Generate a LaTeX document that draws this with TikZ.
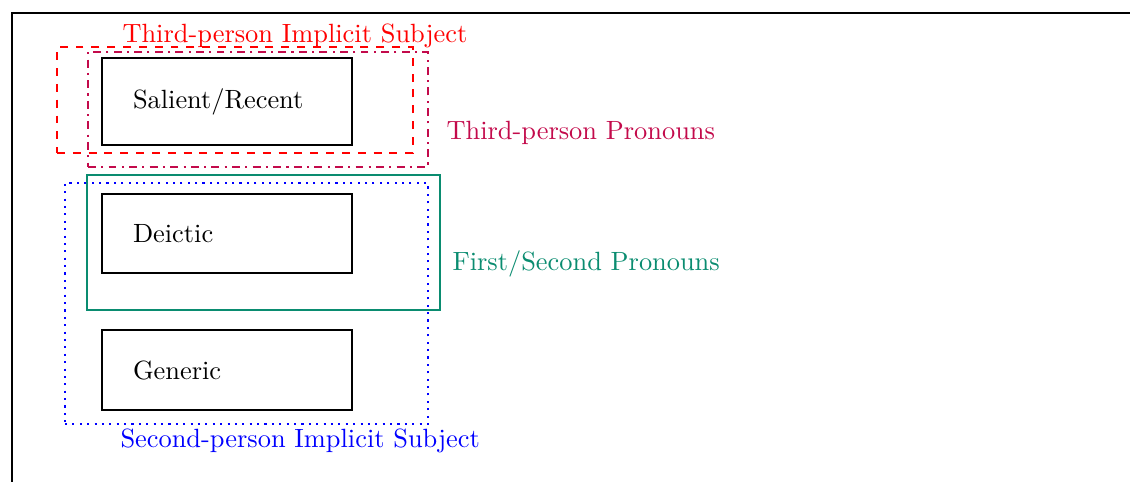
\documentclass[tikz,border=0pt]{standalone}
\usetikzlibrary{positioning}
\definecolor{grp}{RGB}{10,140,112}
\definecolor{pur}{RGB}{195,10,75}
\begin{document}
\begin{tikzpicture}[x=0.379pt,y=-0.379pt,
  catbox/.style={draw=black,thick,rectangle,minimum width=250*0.379pt,
    text width=188*0.379pt,align=left,inner xsep=31*0.379pt,inner ysep=0pt},
  grpbox/.style={rectangle,inner sep=0pt,thick},
  lab/.style={anchor=base west,inner sep=0pt}]
\useasboundingbox (0,0) rectangle (1130,481);
\coordinate (fbl) at (12,490);
\coordinate (ftl) at (12,13);
\coordinate (ftr) at (1140,13);
\draw[line width=0.9pt] (fbl) -- (ftl) -- (ftr);
% category boxes
\node[catbox,minimum height=87*0.379pt] (sal) at (227,101.5) {Salient/Recent};
\node[catbox,minimum height=79*0.379pt] (dei) at (227,233.5) {Deictic};
\node[catbox,minimum height=80*0.379pt] (gen) at (227,370) {Generic};
% group boxes
\node[grpbox,draw=red,dashed,minimum width=356*0.379pt,minimum height=106*0.379pt] (tis) at (235,100) {};
\node[grpbox,draw=pur,dash dot,minimum width=340*0.379pt,minimum height=115*0.379pt] (tpp) at (258,109.5) {};
\node[grpbox,draw=grp,minimum width=353*0.379pt,minimum height=135*0.379pt] (fsp) at (263.5,242.5) {};
\node[grpbox,draw=blue,dotted,minimum width=363*0.379pt,minimum height=241*0.379pt] (sis) at (246.5,303.5) {};
% labels
\node[lab,text=red] (tisl) at (122,42) {Third-person Implicit Subject};
\node[lab,text=pur] (tppl) at (446,139) {Third-person Pronouns};
\node[lab,text=grp] (fspl) at (452,270) {First/Second Pronouns};
\node[lab,text=blue] (sisl) at (120,447) {Second-person Implicit Subject};
\end{tikzpicture}
\end{document}
